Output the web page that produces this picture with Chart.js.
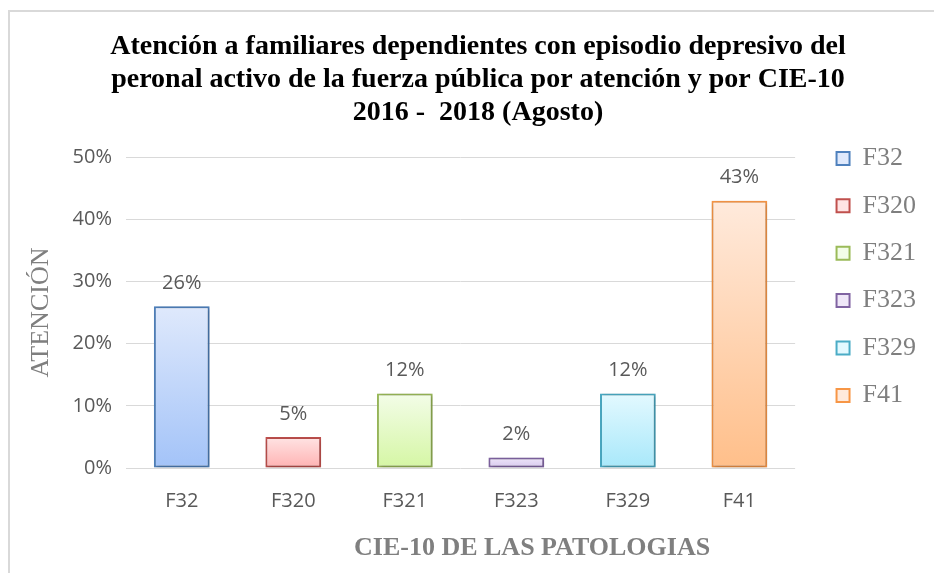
<!DOCTYPE html>
<html lang="es">
<head>
<meta charset="utf-8">
<title>Atención CIE-10</title>
<script src="https://cdn.jsdelivr.net/npm/chart.js@4.4.1/dist/chart.umd.min.js"></script>
<style>
    html, body { margin: 0; padding: 0; background: #fff; overflow: hidden; }
    #frame {
        position: absolute; left: 8px; top: 10px; width: 1000px; height: 620px;
        border-left: 2px solid #d9d9d9; border-top: 2px solid #d9d9d9;
    }
    #chartBox { position: absolute; left: 0; top: 0; width: 924px; height: 561px; }
</style>
</head>
<body>
<div id="frame"><div id="chartBox"><canvas id="mainChart"></canvas></div></div>
<script>
// Atención por CIE-10 - bar chart

const categories = ['F32', 'F320', 'F321', 'F323', 'F329', 'F41'];
const attention = [26, 5, 12, 1.7, 12, 43];   // % of attentions
const yTicks = [0, 10, 20, 30, 40, 50];

// bar styles (Excel gradient fills)
const borderColors = ['#4f81bd', '#c0504d', '#9bbb59', '#8064a2', '#4bacc6', '#f79646'];
const topColors = ['#dfe9fc', '#ffe4e4', '#f3fde8', '#efe7f8', '#e3f9ff', '#ffeadc'];
const bottomColors = ['#a3c3f8', '#ffb2b2', '#d5f6a4', '#d6c7ee', '#a8e8fa', '#ffbf8a'];

const SERIF = "'Liberation Serif', 'Times New Roman', serif";
const SANS = "'Open Sans', 'Noto Sans', sans-serif";

function barGradient(context) {
    const chart = context.chart;
    const i = context.dataIndex;
    if (!chart.chartArea || i === undefined) return topColors[i || 0];
    const y = chart.scales.y;
    const top = y.getPixelForValue(attention[i]);
    const bottom = y.getPixelForValue(0);
    const g = chart.ctx.createLinearGradient(0, top, 0, bottom);
    g.addColorStop(0, topColors[i]);
    g.addColorStop(1, bottomColors[i]);
    return g;
}

// soft shadow under the bars
const barShadow = {
    id: 'barShadow',
    beforeDatasetsDraw(chart) {
        const ctx = chart.ctx;
        ctx.save();
        ctx.shadowColor = 'rgba(0,0,0,0.28)';
        ctx.shadowBlur = 4;
        ctx.shadowOffsetX = 1;
        ctx.shadowOffsetY = 1;
    },
    afterDatasetsDraw(chart) {
        chart.ctx.restore();
    }
};

// value labels above each bar
const valueLabels = {
    id: 'valueLabels',
    afterDatasetsDraw(chart) {
        const ctx = chart.ctx;
        const meta = chart.getDatasetMeta(0);
        ctx.save();
        ctx.font = `20px ${SANS}`;
        ctx.fillStyle = '#595959';
        ctx.textAlign = 'center';
        ctx.textBaseline = 'middle';
        meta.data.forEach((bar, i) => {
            ctx.fillText(Math.round(attention[i]) + '%', bar.x, bar.y - 23);
        });
        ctx.restore();
    }
};

const ctx = document.getElementById('mainChart');

new Chart(ctx, {
    type: 'bar',
    data: {
        labels: categories,
        datasets: [{
            label: 'Atención',
            data: attention,
            backgroundColor: barGradient,
            borderColor: borderColors,
            borderWidth: 2,
            borderSkipped: false,
            barPercentage: 0.5,
            categoryPercentage: 1.0
        }]
    },
    options: {
        responsive: true,
        maintainAspectRatio: false,
        animation: false,
        layout: { padding: { top: 0, right: 8, bottom: 0, left: 20 } },
        plugins: {
            title: {
                display: true,
                text: [
                    'Atención a familiares dependientes con episodio depresivo del',
                    'peronal activo de la fuerza pública por atención y por CIE-10',
                    '2016 -  2018 (Agosto)'
                ],
                color: '#000',
                font: { family: SERIF, size: 28, weight: 'bold', lineHeight: 1.18 },
                padding: { top: 18, bottom: -5 }
            },
            legend: {
                position: 'right',
                align: 'start',
                title: { display: true, text: '', font: { size: 10, lineHeight: 1 }, padding: { top: 102, bottom: 0 } },
                labels: {
                    font: { family: SERIF, size: 26 },
                    color: '#7f7f7f',
                    boxWidth: 13,
                    boxHeight: 13,
                    padding: 21.4,
                    generateLabels: () => categories.map((c, i) => ({
                        text: c,
                        fillStyle: topColors[i],
                        strokeStyle: borderColors[i],
                        lineWidth: 2,
                        fontColor: '#7f7f7f',
                        hidden: false,
                        index: i,
                        datasetIndex: 0
                    }))
                }
            },
            tooltip: { enabled: false }
        },
        scales: {
            x: {
                grid: { display: false },
                border: { display: false },
                ticks: { color: '#595959', font: { family: SANS, size: 20 }, padding: 13 },
                title: {
                    display: true,
                    text: '\u00a0'.repeat(22) + 'CIE-10 DE LAS PATOLOGIAS',
                    color: '#7f7f7f',
                    font: { family: SERIF, size: 26, weight: 'bold', lineHeight: 1.2 },
                    padding: { top: 0, bottom: 9 }
                },
                afterFit: (s) => { s.height = 105; }
            },
            x2: {
                position: 'top',
                grid: { display: false },
                border: { display: false },
                ticks: { display: false },
                afterFit: (s) => { s.height = 33; }
            },
            y: {
                min: 0,
                max: 50,
                afterBuildTicks: (s) => { s.ticks = yTicks.map(v => ({ value: v })); },
                grid: { color: '#d9d9d9', lineWidth: 1, drawTicks: false },
                border: { display: false },
                ticks: {
                    color: '#595959',
                    font: { family: SANS, size: 20 },
                    padding: 14,
                    callback: (v) => v + '%'
                },
                title: {
                    display: true,
                    text: 'ATENCIÓN',
                    color: '#7f7f7f',
                    font: { family: SERIF, size: 26, lineHeight: 1.2 },
                    padding: { top: -4, bottom: 0 }
                },
                afterFit: (s) => { s.width = 96; }
            },
            y2: {
                position: 'right',
                grid: { display: false },
                border: { display: false },
                ticks: { display: false },
                afterFit: (s) => { s.width = 20; }
            }
        }
    },
    plugins: [barShadow, valueLabels]
});
</script>
</body>
</html>
